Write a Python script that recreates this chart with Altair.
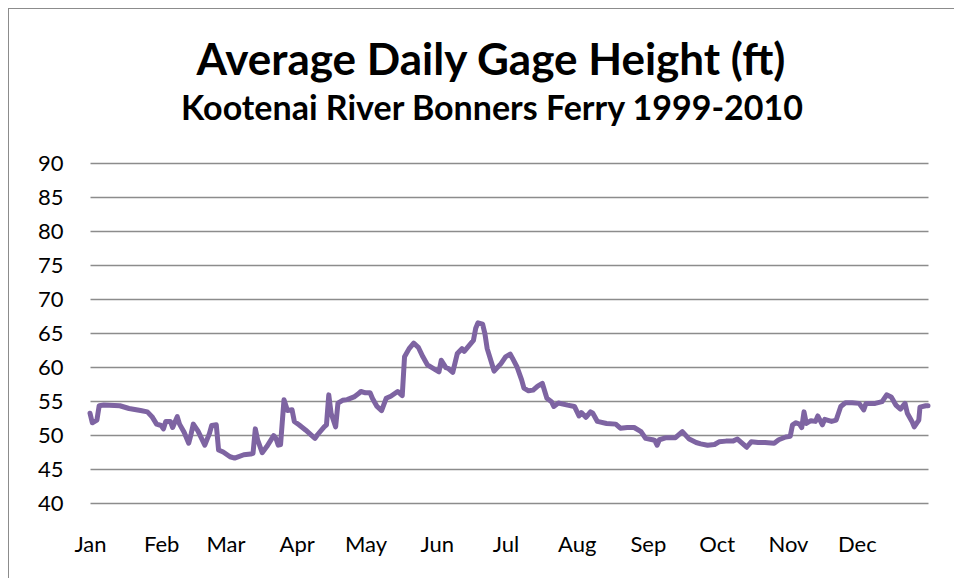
import altair as alt
import pandas as pd

# Day of year (0 = Jan 1) and average gage height (ft)
days = [0, 1, 3, 4, 6, 13, 17, 22, 25, 27, 29, 31, 32, 33, 35, 36, 38, 39, 41, 43,
        44, 45, 47, 50, 52, 53, 55, 56, 58, 61, 63, 67, 70, 71, 72, 73, 75, 77, 80, 81,
        82, 83, 84.5, 86, 88, 89, 91, 94, 97, 98, 99, 102, 103, 104, 105, 107, 108, 110, 112, 115,
        117, 118, 120, 122, 123, 125, 127, 129, 131, 134, 136, 137, 139, 141, 143, 145, 147, 150, 152, 153,
        155, 156, 158, 160, 162, 163, 165, 167, 168, 169, 171, 172, 173, 175, 176, 179, 181, 183, 184, 186,
        188, 189, 191, 193, 195, 197, 199, 201, 202, 204, 208, 211, 213, 214, 216, 218, 219, 221, 225, 229,
        231, 234, 237, 240, 242, 245, 246, 247, 248, 251, 255, 258, 261, 264, 266, 269, 272, 274, 277, 280,
        282, 284, 286, 288, 291, 294, 298, 300, 303, 305, 306, 307.5, 309, 310, 311, 312, 314, 316, 317, 319,
        320, 323, 325, 327, 329, 332, 335, 337, 338, 342, 345, 347, 349, 351, 353, 355, 356, 358, 359, 361,
        361.5, 364, 365]
heights = [53.2, 51.8, 52.2, 54.3, 54.4, 54.3, 53.9, 53.6, 53.4, 52.7, 51.6, 51.4, 50.9, 52.0, 52.0, 51.1, 52.7, 51.6, 50.4, 48.8,
           50.1, 51.6, 50.6, 48.5, 50.2, 51.4, 51.5, 47.8, 47.5, 46.8, 46.6, 47.1, 47.2, 47.3, 50.9, 49.3, 47.4, 48.3, 49.9, 49.5,
           48.5, 48.6, 55.2, 53.6, 53.7, 52.0, 51.5, 50.7, 49.8, 49.5, 50.0, 51.2, 51.5, 55.9, 53.2, 51.2, 54.7, 55.1, 55.2, 55.6,
           56.1, 56.4, 56.2, 56.2, 55.4, 54.2, 53.6, 55.4, 55.7, 56.4, 55.8, 61.5, 62.7, 63.5, 62.9, 61.5, 60.3, 59.7, 59.3, 61.0,
           59.9, 59.8, 59.2, 62.0, 62.7, 62.3, 63.1, 63.9, 65.7, 66.5, 66.3, 64.9, 62.7, 60.5, 59.4, 60.5, 61.5, 61.9, 61.3, 60.0,
           58.1, 56.9, 56.5, 56.6, 57.2, 57.6, 55.4, 54.9, 54.2, 54.7, 54.4, 54.2, 52.8, 53.3, 52.6, 53.4, 53.2, 52.0, 51.7, 51.6,
           51.0, 51.1, 51.1, 50.5, 49.5, 49.3, 49.2, 48.5, 49.3, 49.6, 49.6, 50.5, 49.4, 48.9, 48.7, 48.5, 48.6, 49.0, 49.1, 49.1,
           49.4, 48.8, 48.2, 49.0, 48.9, 48.9, 48.8, 49.3, 49.7, 49.8, 51.5, 51.8, 51.6, 51.1, 53.4, 51.7, 52.1, 52.0, 52.8, 51.5,
           52.3, 52.0, 52.2, 54.2, 54.75, 54.75, 54.65, 53.7, 54.65, 54.65, 54.9, 55.9, 55.6, 54.4, 53.8, 54.65, 53.2, 52.0, 51.2, 52.2,
           54.1, 54.3, 54.3]

month_starts = [0, 31, 59, 90, 120, 151, 181, 212, 243, 273, 304, 334]
month_names = ["Jan", "Feb", "Mar", "Apr", "May", "Jun", "Jul", "Aug", "Sep", "Oct", "Nov", "Dec"]
y_ticks = [40, 45, 50, 55, 60, 65, 70, 75, 80, 85, 90]

title_text = "Average Daily Gage Height (ft)"
subtitle_text = "Kootenai River Bonners Ferry 1999-2010"

df = pd.DataFrame({"day": days, "height": heights})

label_expr = "{" + ",".join(f"'{d}':'{m}'" for d, m in zip(month_starts, month_names)) + "}[datum.value]"

FONT = "Lato"

line = alt.Chart(df).mark_line(color="#7E64A2", strokeWidth=5, strokeJoin="round", strokeCap="round").encode(
    x=alt.X("day:Q", scale=alt.Scale(domain=[0, 365], nice=False, zero=False),
            axis=alt.Axis(values=month_starts, labelExpr=label_expr, title=None, grid=False,
                          ticks=False, domain=False, labelFontSize=22, labelColor="#000000",
                          labelPadding=31, labelFont=FONT, labelAlign="center")),
    y=alt.Y("height:Q", scale=alt.Scale(domain=[40, 90], nice=False, zero=False),
            axis=alt.Axis(values=y_ticks, title=None, grid=True, gridColor="#8C8C8C", gridWidth=1.5,
                          ticks=False, domain=False, labelFontSize=22, labelColor="#000000",
                          labelPadding=27, labelFont=FONT)),
)

frame = alt.Chart(df).mark_rect(fill=None, stroke="#8C8C8C", strokeWidth=1.5).encode(
    x=alt.value(-82.5), x2=alt.value(872.5), y=alt.value(-155.5), y2=alt.value(440)
)

title = alt.Chart(pd.DataFrame({"t": [title_text]})).mark_text(
    font=FONT, fontSize=44, fontWeight="bold", color="#000000", align="center", baseline="alphabetic"
).encode(text="t:N", x=alt.value(401), y=alt.value(-88))

subtitle = alt.Chart(pd.DataFrame({"t": [subtitle_text]})).mark_text(
    font=FONT, fontSize=34, fontWeight="bold", color="#000000", align="center", baseline="alphabetic"
).encode(text="t:N", x=alt.value(402), y=alt.value(-43))

chart = alt.layer(line, frame, title, subtitle).properties(
    width=838,
    height=340,
    autosize=alt.AutoSizeParams(type="none"),
    padding={"left": 82, "top": 155, "right": 26, "bottom": 75},
).configure_view(stroke=None)

chart.save("out.html", embed_options={"renderer": "svg", "actions": False})
